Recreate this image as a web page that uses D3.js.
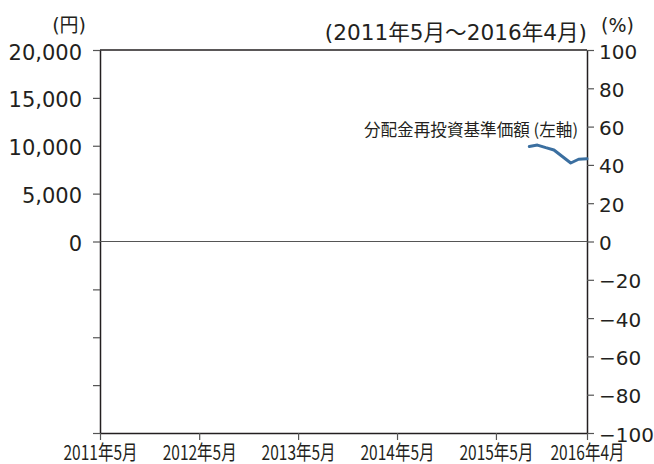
<!DOCTYPE html>
<html>
<head>
<meta charset="utf-8">
<script src="https://cdn.jsdelivr.net/npm/d3@7"></script>
<style>
  body { margin: 0; background: #fff; }
  svg { display: block; }
  text { fill: #231f20; }
</style>
</head>
<body>
<script>
const [W, H] = [654, 464];
const PADDING = { left: 100, top: 50, right: 67, bottom: 31 };
const NUM_FONT = '"DejaVu Sans", "Noto Sans CJK JP", sans-serif';
const JP_FONT = '"Noto Sans CJK JP", sans-serif';

// data
const MONTHS = ['2015-09', '2015-10', '2015-11', '2015-12', '2016-01', '2016-02', '2016-03', '2016-04'];
const NAV = [9930, 10070, 9800, 9560, 8880, 8200, 8590, 8640];

const LEFT_TICKS = [20000, 15000, 10000, 5000, 0, -5000, -10000, -15000, -20000];
const RIGHT_TICKS = [100, 80, 60, 40, 20, 0, -20, -40, -60, -80, -100];
const X_TICKS = ['2011-05', '2012-05', '2013-05', '2014-05', '2015-05', '2016-04'];
const X_LABELS = ['2011年5月', '2012年5月', '2013年5月', '2014年5月', '2015年5月', '2016年4月'];

const parse = d3.timeParse('%Y-%m');

const svg = d3.select('body').append('svg').attr('width', W).attr('height', H);

const x = d3.scaleTime()
    .domain([parse('2011-05'), parse('2016-04')])
    .range([PADDING.left, W - PADDING.right]);

const yL = d3.scaleLinear()
    .domain([-20000, 20000])
    .range([H - PADDING.bottom, PADDING.top]);

const yR = d3.scaleLinear()
    .domain([-100, 100])
    .range([H - PADDING.bottom, PADDING.top]);

// left axis
const leftAxis = svg.append('g')
    .attr('transform', 'translate(' + PADDING.left + ',0)')
    .call(d3.axisLeft(yL)
        .tickValues(LEFT_TICKS)
        .tickSize(7)
        .tickSizeOuter(0)
        .tickPadding(11)
        .tickFormat(d => d >= 0 ? d3.format(',')(d) : ''));
leftAxis.select('.domain').attr('stroke', '#231f20').attr('stroke-width', 1.5);
leftAxis.selectAll('.tick line').attr('stroke', '#555').attr('stroke-width', 1.2);
leftAxis.selectAll('.tick text')
    .attr('dy', null).attr('y', 9)
    .style('font-family', NUM_FONT).style('font-size', '21px').attr('fill', '#231f20');

// right axis
const rightAxis = svg.append('g')
    .attr('transform', 'translate(' + (W - PADDING.right) + ',0)')
    .call(d3.axisRight(yR)
        .tickValues(RIGHT_TICKS)
        .tickSize(7)
        .tickSizeOuter(0)
        .tickPadding(5)
        .tickFormat(d => d < 0 ? '\u2212' + Math.abs(d) : '' + d));
rightAxis.select('.domain').attr('stroke', '#231f20').attr('stroke-width', 1.5);
rightAxis.selectAll('.tick line').attr('stroke', '#555').attr('stroke-width', 1.2);
rightAxis.selectAll('.tick text')
    .attr('dy', null).attr('y', 8)
    .style('font-family', NUM_FONT).style('font-size', '20px').attr('fill', '#231f20');

// bottom axis
const bottomAxis = svg.append('g')
    .attr('transform', 'translate(0,' + (H - PADDING.bottom) + ')')
    .call(d3.axisBottom(x)
        .tickValues(X_TICKS.map(parse))
        .tickSize(7)
        .tickSizeOuter(0)
        .tickPadding(5)
        .tickFormat((d, i) => X_LABELS[i]));
bottomAxis.select('.domain').attr('stroke', '#231f20').attr('stroke-width', 1.5);
bottomAxis.selectAll('.tick line').attr('stroke', '#555').attr('stroke-width', 1.2);
bottomAxis.selectAll('.tick text')
    .attr('dy', null).attr('y', 27)
    .attr('textLength', 74).attr('lengthAdjust', 'spacingAndGlyphs')
    .style('font-family', JP_FONT).style('font-size', '20px').attr('fill', '#231f20');

// top border
svg.append('line')
    .attr('x1', PADDING.left).attr('x2', W - PADDING.right)
    .attr('y1', yL(20000)).attr('y2', yL(20000))
    .attr('stroke', '#231f20').attr('stroke-width', 1.5);

// zero line
svg.append('line')
    .attr('x1', PADDING.left).attr('x2', W - PADDING.right)
    .attr('y1', yL(0)).attr('y2', yL(0))
    .attr('stroke', '#555').attr('stroke-width', 1);

// NAV line
const line = d3.line()
    .x((d, i) => x(parse(MONTHS[i])))
    .y(d => yL(d));

svg.append('path')
    .datum(NAV)
    .attr('d', line)
    .attr('fill', 'none')
    .attr('stroke', '#3b6fa0')
    .attr('stroke-width', 3)
    .attr('stroke-linejoin', 'round')
    .attr('stroke-linecap', 'round');

// labels
svg.append('text')
    .attr('x', 86).attr('y', 32)
    .attr('text-anchor', 'end')
    .style('font-family', NUM_FONT).style('font-size', '19px')
    .text('(円)');

svg.append('text')
    .attr('x', 634).attr('y', 32)
    .attr('text-anchor', 'end')
    .style('font-family', NUM_FONT).style('font-size', '19px')
    .text('(%)');

svg.append('text')
    .attr('x', 587).attr('y', 40)
    .attr('text-anchor', 'end')
    .style('font-family', NUM_FONT).style('font-size', '21.6px')
    .text('(2011年5月～2016年4月)');

svg.append('text')
    .attr('x', 578).attr('y', 136)
    .attr('text-anchor', 'end')
    .style('font-family', JP_FONT).style('font-size', '16.6px')
    .text('分配金再投資基準価額 (左軸)');
</script>
</body>
</html>
